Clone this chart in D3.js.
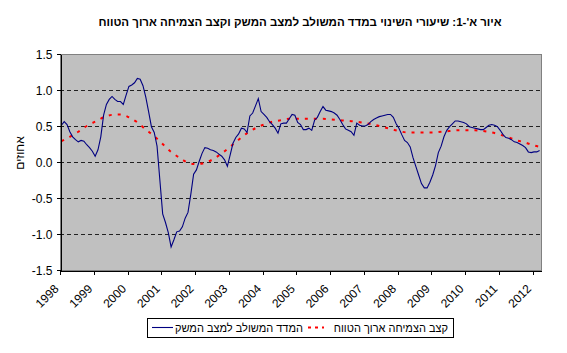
<!DOCTYPE html>
<html>
<head>
<meta charset="utf-8">
<script src="https://cdn.jsdelivr.net/npm/d3@7"></script>
<style>
  body { margin: 0; background: #fff; }
  svg { font-family: "Liberation Sans", Arial, sans-serif; }
</style>
</head>
<body>
<svg id="chart" width="567" height="353"></svg>
<script>
// year labels on the category axis (one every 12 months)
const yearLabels = ['1998', '1999', '2000', '2001', '2002', '2003', '2004', '2005',
  '2006', '2007', '2008', '2009', '2010', '2011', '2012'];

// monthly change of the composite index, Jan 1998 - Mar 2012
const compositeIndex = [
  0.51, 0.56, 0.52, 0.42, 0.35, 0.31, 0.28, 0.30, 0.29, 0.24, 0.20, 0.15,
  0.08, 0.17, 0.35, 0.65, 0.80, 0.87, 0.91, 0.87, 0.84, 0.84, 0.80, 0.93,
  1.05, 1.07, 1.10, 1.16, 1.15, 1.06, 0.90, 0.70, 0.49, 0.41, 0.22, -0.25,
  -0.72, -0.84, -0.98, -1.18, -1.08, -0.97, -0.96, -0.90, -0.78, -0.70, -0.45, -0.17,
  -0.11, 0.01, 0.12, 0.20, 0.19, 0.17, 0.16, 0.14, 0.11, 0.08, 0.03, -0.06,
  0.10, 0.26, 0.34, 0.39, 0.47, 0.46, 0.41, 0.64, 0.68, 0.78, 0.88, 0.70,
  0.66, 0.62, 0.56, 0.52, 0.47, 0.40, 0.53, 0.54, 0.54, 0.60, 0.66, 0.65,
  0.55, 0.52, 0.45, 0.45, 0.47, 0.44, 0.58, 0.62, 0.70, 0.77, 0.72, 0.71,
  0.70, 0.68, 0.65, 0.59, 0.52, 0.46, 0.44, 0.42, 0.37, 0.54, 0.51, 0.50,
  0.50, 0.52, 0.56, 0.59, 0.61, 0.63, 0.64, 0.65, 0.66, 0.66, 0.62, 0.53,
  0.47, 0.38, 0.30, 0.27, 0.21, 0.06, -0.06, -0.18, -0.30, -0.36, -0.36, -0.28,
  -0.18, -0.05, 0.13, 0.22, 0.35, 0.44, 0.49, 0.53, 0.57, 0.57, 0.56, 0.55,
  0.53, 0.49, 0.48, 0.47, 0.46, 0.45, 0.45, 0.48, 0.51, 0.52, 0.51, 0.49,
  0.44, 0.38, 0.34, 0.33, 0.31, 0.28, 0.27, 0.25, 0.23, 0.20, 0.14, 0.13,
  0.14, 0.14, 0.16
];

// long-term growth rate, read every third month (last one = Mar 2012)
const longTermGrowth = [
  0.29, 0.35, 0.42, 0.50, 0.56, 0.62, 0.655, 0.66, 0.62, 0.55, 0.45, 0.36,
  0.25, 0.14, 0.06, -0.01, -0.03, -0.01, 0.04, 0.12, 0.21, 0.31, 0.40, 0.47,
  0.52, 0.56, 0.58, 0.60, 0.60, 0.60, 0.60, 0.60, 0.59, 0.58, 0.57, 0.56,
  0.54, 0.52, 0.49, 0.46, 0.43, 0.41, 0.41, 0.41, 0.41, 0.42, 0.43, 0.44,
  0.44, 0.44, 0.43, 0.41, 0.38, 0.34, 0.30, 0.27, 0.23, 0.21
];

const yTicks = [-1.5, -1.0, -0.5, 0.0, 0.5, 1.0, 1.5];

const svg = d3.select('#chart');
const plotL = 60, plotR = 541, plotT = 54, plotB = 270;
const nMonths = compositeIndex.length;

const x = d3.scaleLinear().domain([0, nMonths]).range([plotL, plotR]);
const y = d3.scaleLinear().domain([-1.5, 1.5]).range([plotB, plotT]);

// plot background + grey frame
svg.append('rect')
  .attr('x', plotL).attr('y', plotT)
  .attr('width', plotR - plotL).attr('height', plotB - plotT)
  .attr('fill', '#c0c0c0')
  .attr('stroke', '#808080')
  .attr('shape-rendering', 'crispEdges');

// dashed grid
svg.append('g')
  .selectAll('line')
  .data(yTicks.filter((d) => d > -1.5 && d < 1.5))
  .enter()
  .append('line')
  .attr('x1', plotL).attr('x2', plotR)
  .attr('y1', (d) => Math.round(y(d)) + 0.5)
  .attr('y2', (d) => Math.round(y(d)) + 0.5)
  .attr('stroke', '#222')
  .attr('stroke-dasharray', '4,3');

// series
const lineIdx = d3.line()
  .x((d, i) => x(i + 0.5))
  .y((d) => y(d));

svg.append('path')
  .datum(longTermGrowth)
  .attr('d', d3.line()
    .x((d, i) => x(Math.min(i * 3, nMonths - 1) + 0.5))
    .y((d) => y(d))
    .curve(d3.curveMonotoneX))
  .attr('fill', 'none')
  .attr('stroke', '#ff0000')
  .attr('stroke-width', 2)
  .attr('stroke-dasharray', '3,6');

svg.append('path')
  .datum(compositeIndex)
  .attr('d', lineIdx)
  .attr('fill', 'none')
  .attr('stroke', '#000080')
  .attr('stroke-width', 1.1);

// axes
const yAxis = svg.append('g')
  .attr('transform', 'translate(' + (plotL + 0.5) + ',0)')
  .call(d3.axisLeft(y).tickValues(yTicks).tickSize(4).tickSizeOuter(0)
    .tickFormat((d) => d.toFixed(1)));

const xAxis = svg.append('g')
  .attr('transform', 'translate(0,' + (plotB + 0.5) + ')')
  .call(d3.axisBottom(x).tickValues(d3.range(0, nMonths - 2, 12)).tickSize(4).tickSizeOuter(0)
    .tickFormat((d, i) => yearLabels[i]));

[yAxis, xAxis].forEach((g) => {
  g.selectAll('path, line').attr('stroke', '#000').attr('shape-rendering', 'crispEdges');
  g.selectAll('text').attr('fill', '#000').style('font-size', '12px')
    .style('font-family', '"Liberation Sans", Arial, sans-serif');
});
yAxis.selectAll('text').attr('x', -8).attr('dy', '0.35em');

xAxis.selectAll('text')
  .attr('text-anchor', 'end')
  .attr('dy', 0)
  .attr('y', 0)
  .attr('transform', 'translate(-1,19) rotate(-45)');

// axis title
svg.append('text')
  .attr('transform', 'translate(24,153) rotate(-90)')
  .attr('text-anchor', 'middle')
  .attr('direction', 'rtl')
  .style('font-size', '12px')
  .text('אחוזים');

// chart title
svg.append('text')
  .attr('x', 300).attr('y', 26)
  .attr('text-anchor', 'middle')
  .attr('direction', 'rtl')
  .style('font-size', '11.5px')
  .style('font-weight', 'bold')
  .text("איור א'-1: שיעורי השינוי במדד המשולב למצב המשק וקצב הצמיחה ארוך הטווח");

// legend
const legend = svg.append('g');
legend.append('rect')
  .attr('x', 147.5).attr('y', 318.5)
  .attr('width', 306).attr('height', 19)
  .attr('fill', '#fff').attr('stroke', '#000');

const legendItems = [
  { name: 'קצב הצמיחה ארוך הטווח', color: '#ff0000', dash: '3,4', w: 2, textX: 448, x1: 308, x2: 324 },
  { name: 'המדד המשולב למצב המשק', color: '#000080', dash: null, w: 1.1, textX: 303, x1: 152, x2: 173 }
];
const item = legend.selectAll('.legend')
  .data(legendItems)
  .enter()
  .append('g')
  .attr('class', 'legend');
item.append('line')
  .attr('x1', (d) => d.x1).attr('x2', (d) => d.x2)
  .attr('y1', 327.5).attr('y2', 327.5)
  .attr('stroke', (d) => d.color)
  .attr('stroke-width', (d) => d.w)
  .attr('stroke-dasharray', (d) => d.dash);
item.append('text')
  .attr('x', (d) => d.textX).attr('y', 332)
  .attr('direction', 'rtl')
  .attr('text-anchor', 'start')
  .style('font-size', '11px')
  .text((d) => d.name);
</script>
</body>
</html>
